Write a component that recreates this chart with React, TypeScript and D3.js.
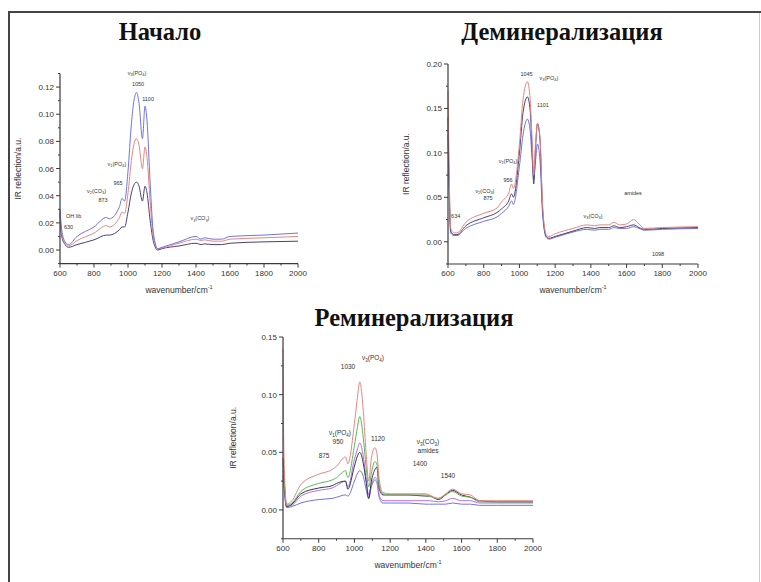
import React from "react";
import * as d3 from "d3";

// ---------- DATA ----------
const TITLES = ["Начало", "Деминерализация", "Реминерализация"];
const X_LABEL = "wavenumber/cm";
const Y_LABEL = "IR reflection/a.u.";
const X_TICKS = [600, 800, 1000, 1200, 1400, 1600, 1800, 2000];

// Panel 1: Начало
const WN1 = [600, 610, 630, 650, 700, 800, 873, 890, 950, 965, 980, 1000, 1020, 1035, 1050, 1065, 1085, 1100, 1112, 1130, 1150, 1175, 1200, 1300, 1400, 1430, 1450, 1500, 1550, 1600, 1800, 2000];
const P1_BLUE = [0.030, 0.015, 0.006, 0.004, 0.010, 0.017, 0.024, 0.023, 0.032, 0.038, 0.036, 0.058, 0.093, 0.110, 0.116, 0.108, 0.082, 0.106, 0.095, 0.050, 0.012, 0.001, 0.002, 0.006, 0.010, 0.008, 0.009, 0.008, 0.008, 0.010, 0.011, 0.0125];
const P1_RED = [0.028, 0.012, 0.005, 0.003, 0.007, 0.0125, 0.018, 0.017, 0.024, 0.028, 0.027, 0.042, 0.066, 0.078, 0.082, 0.077, 0.060, 0.076, 0.068, 0.036, 0.009, 0.001, 0.0015, 0.005, 0.008, 0.007, 0.0075, 0.0065, 0.0065, 0.008, 0.009, 0.010];
const P1_DARK = [0.026, 0.010, 0.004, 0.002, 0.004, 0.0075, 0.011, 0.011, 0.015, 0.017, 0.017, 0.028, 0.042, 0.048, 0.050, 0.047, 0.036, 0.047, 0.042, 0.022, 0.006, 0.000, 0.001, 0.003, 0.005, 0.004, 0.0045, 0.004, 0.004, 0.005, 0.006, 0.0065];
const P1_Y_TICKS = [0.00, 0.02, 0.04, 0.06, 0.08, 0.10, 0.12];
const P1_NOTES = [
  { t: "ν_3(PO_4)", x: 1053, y: 0.129 },
  { t: "1050", x: 1059, y: 0.121 },
  { t: "1100", x: 1118, y: 0.110 },
  { t: "ν_1(PO_4)", x: 935, y: 0.062 },
  { t: "965", x: 941, y: 0.048 },
  { t: "ν_2(CO_3)", x: 815, y: 0.042 },
  { t: "873", x: 853, y: 0.035 },
  { t: "OH lib", x: 680, y: 0.0236 },
  { t: "630", x: 650, y: 0.0155 },
  { t: "ν_3(CO_3)", x: 1423, y: 0.022 },
];

// Panel 2: Деминерализация
const WN2 = [600, 605, 615, 634, 650, 700, 800, 875, 900, 940, 956, 966, 1000, 1020, 1045, 1060, 1072, 1080, 1090, 1101, 1115, 1130, 1150, 1165, 1200, 1300, 1380, 1420, 1450, 1500, 1530, 1560, 1600, 1640, 1670, 1700, 1800, 2000];
const P2_RED = [0.17, 0.10, 0.015, 0.010, 0.010, 0.022, 0.032, 0.038, 0.045, 0.055, 0.065, 0.060, 0.110, 0.160, 0.180, 0.160, 0.110, 0.075, 0.110, 0.133, 0.118, 0.040, 0.008, 0.006, 0.009, 0.015, 0.019, 0.018, 0.019, 0.019, 0.022, 0.019, 0.020, 0.025, 0.020, 0.015, 0.016, 0.017];
const P2_DARK = [0.14, 0.08, 0.012, 0.008, 0.008, 0.018, 0.027, 0.033, 0.037, 0.046, 0.054, 0.050, 0.100, 0.145, 0.163, 0.148, 0.100, 0.065, 0.105, 0.133, 0.115, 0.036, 0.006, 0.004, 0.006, 0.012, 0.016, 0.015, 0.016, 0.016, 0.018, 0.016, 0.017, 0.019, 0.016, 0.014, 0.015, 0.016];
const P2_BLUE = [0.12, 0.07, 0.010, 0.007, 0.007, 0.015, 0.023, 0.028, 0.032, 0.040, 0.046, 0.042, 0.085, 0.120, 0.138, 0.125, 0.090, 0.070, 0.090, 0.110, 0.092, 0.030, 0.005, 0.003, 0.005, 0.011, 0.014, 0.013, 0.014, 0.014, 0.016, 0.015, 0.015, 0.017, 0.015, 0.013, 0.014, 0.015];
const P2_Y_TICKS = [0.00, 0.05, 0.10, 0.15, 0.20];
const P2_NOTES = [
  { t: "1045", x: 1040, y: 0.1865 },
  { t: "ν_3(PO_4)", x: 1165, y: 0.182 },
  { t: "1101", x: 1132, y: 0.152 },
  { t: "ν_1(PO_4)", x: 936, y: 0.089 },
  { t: "956", x: 936, y: 0.067 },
  { t: "ν_2(CO_3)", x: 807, y: 0.055 },
  { t: "875", x: 824, y: 0.047 },
  { t: "634", x: 643, y: 0.027 },
  { t: "ν_3(CO_3)", x: 1412, y: 0.027 },
  { t: "amides", x: 1636, y: 0.053 },
  { t: "1098", x: 1776, y: -0.016 },
];

// Panel 3: Реминерализация
const WN3 = [600, 605, 620, 650, 700, 800, 875, 900, 950, 963, 1000, 1015, 1030, 1050, 1065, 1080, 1095, 1115, 1125, 1140, 1160, 1200, 1300, 1400, 1420, 1470, 1510, 1550, 1600, 1650, 1700, 1800, 2000];
const P3_RED = [0.14, 0.05, 0.005, 0.008, 0.022, 0.031, 0.035, 0.038, 0.046, 0.040, 0.075, 0.095, 0.111, 0.085, 0.050, 0.025, 0.045, 0.054, 0.050, 0.025, 0.015, 0.014, 0.014, 0.014, 0.013, 0.010, 0.014, 0.018, 0.014, 0.013, 0.008, 0.008, 0.008];
const P3_GREEN = [0.04, 0.03, 0.004, 0.006, 0.016, 0.023, 0.026, 0.028, 0.034, 0.028, 0.056, 0.070, 0.081, 0.062, 0.038, 0.020, 0.032, 0.042, 0.040, 0.020, 0.014, 0.013, 0.013, 0.013, 0.012, 0.010, 0.013, 0.016, 0.012, 0.011, 0.007, 0.007, 0.007];
const P3_VIOLET = [0.035, 0.025, 0.003, 0.004, 0.012, 0.017, 0.019, 0.021, 0.025, 0.020, 0.044, 0.052, 0.058, 0.046, 0.028, 0.013, 0.022, 0.028, 0.027, 0.012, 0.008, 0.008, 0.008, 0.008, 0.008, 0.007, 0.008, 0.010, 0.008, 0.008, 0.006, 0.006, 0.006];
const P3_DARK = [0.045, 0.03, 0.003, 0.005, 0.014, 0.019, 0.021, 0.023, 0.025, 0.018, 0.038, 0.046, 0.050, 0.040, 0.025, 0.010, 0.025, 0.035, 0.037, 0.018, 0.013, 0.013, 0.013, 0.012, 0.012, 0.009, 0.013, 0.017, 0.013, 0.011, 0.008, 0.007, 0.007];
const P3_BLUE = [0.03, 0.02, 0.002, 0.003, 0.006, 0.009, 0.010, 0.011, 0.013, 0.012, 0.025, 0.031, 0.034, 0.029, 0.018, 0.010, 0.020, 0.026, 0.024, 0.010, 0.006, 0.006, 0.006, 0.005, 0.005, 0.005, 0.005, 0.006, 0.005, 0.005, 0.004, 0.004, 0.004];
const P3_Y_TICKS = [0.00, 0.05, 0.10, 0.15];
const P3_NOTES = [
  { t: "ν_3(PO_4)", x: 1104, y: 0.130 },
  { t: "1030", x: 964, y: 0.122 },
  { t: "ν_1(PO_4)", x: 919, y: 0.065 },
  { t: "950", x: 908, y: 0.057 },
  { t: "1120", x: 1132, y: 0.060 },
  { t: "875", x: 830, y: 0.045 },
  { t: "ν_3(CO_3)", x: 1412, y: 0.057 },
  { t: "amides", x: 1412, y: 0.049 },
  { t: "1400", x: 1367, y: 0.038 },
  { t: "1540", x: 1524, y: 0.028 },
];

// ---------- LAYOUT / STYLE ----------
const C_RED = "#e4877f";
const C_BLUE = "#7272e2";
const C_DARK = "#4a3f78";
const C_GREEN = "#5fb65a";
const C_VIOLET = "#b46fe0";
const C_BLACK = "#35354f";

const PANELS = [
  {
    title: TITLES[0], titleX: 160, titleY: 40,
    x0: 60, x1: 298, yTop: 73.5, yBot: 263.6, domain: [-0.01, 0.13],
    yTicks: P1_Y_TICKS, minorStep: 0.01, fmt: ".2f",
    wn: WN1,
    series: [
      { v: P1_DARK, c: C_DARK },
      { v: P1_RED, c: C_RED },
      { v: P1_BLUE, c: C_BLUE },
    ],
    notes: P1_NOTES, noteSize: 5.5, yLabelX: 21,
  },
  {
    title: TITLES[1], titleX: 562, titleY: 40,
    x0: 448, x1: 698, yTop: 64, yBot: 264, domain: [-0.025, 0.2],
    yTicks: P2_Y_TICKS, minorStep: 0.025, fmt: ".2f",
    wn: WN2,
    series: [
      { v: P2_BLUE, c: C_BLUE },
      { v: P2_DARK, c: C_DARK },
      { v: P2_RED, c: C_RED },
    ],
    notes: P2_NOTES, noteSize: 5.5, yLabelX: 409,
  },
  {
    title: TITLES[2], titleX: 414, titleY: 326,
    x0: 283, x1: 533, yTop: 337, yBot: 538.75, domain: [-0.025, 0.15],
    yTicks: P3_Y_TICKS, minorStep: 0.025, fmt: ".2f",
    wn: WN3,
    series: [
      { v: P3_BLUE, c: C_BLUE },
      { v: P3_VIOLET, c: C_VIOLET },
      { v: P3_DARK, c: C_BLACK },
      { v: P3_GREEN, c: C_GREEN },
      { v: P3_RED, c: C_RED },
    ],
    notes: P3_NOTES, noteSize: 6.5, yLabelX: 236,
  },
];

const AXIS = "#3a3a3a";
const FONT = "Liberation Sans, Arial, sans-serif";

function Note({ text, x, y, size }: { text: string; x: number; y: number; size: number }) {
  // "_X" => subscript X
  const parts: { s: string; sub: boolean }[] = [];
  let buf = "";
  for (let i = 0; i < text.length; i++) {
    if (text[i] === "_" && i + 1 < text.length) {
      if (buf) parts.push({ s: buf, sub: false });
      buf = "";
      parts.push({ s: text[i + 1], sub: true });
      i++;
    } else buf += text[i];
  }
  if (buf) parts.push({ s: buf, sub: false });
  return (
    <text x={x} y={y} fontSize={size} fontFamily={FONT} fill="#333" textAnchor="middle">
      {parts.map((p, i) =>
        p.sub ? (
          <tspan key={i} fontSize={size * 0.7} dy={size * 0.25}>{p.s}</tspan>
        ) : (
          <tspan key={i} dy={i > 0 && parts[i - 1].sub ? -size * 0.25 : 0}>{p.s}</tspan>
        )
      )}
    </text>
  );
}

function Panel({ p }: { p: (typeof PANELS)[number] }) {
  const xs = d3.scaleLinear().domain([600, 2000]).range([p.x0, p.x1]);
  const ys = d3.scaleLinear().domain(p.domain).range([p.yBot, p.yTop]);
  const line = d3
    .line<number>()
    .x((_, i) => xs(p.wn[i]))
    .y((d) => ys(d))
    .curve(d3.curveMonotoneX);
  const minorY = d3.range(p.domain[0], p.domain[1] + 1e-9, p.minorStep).filter(
    (v) => !p.yTicks.some((t) => Math.abs(t - v) < 1e-9)
  );
  const minorX = d3.range(700, 2000, 200);
  const fmt = d3.format(p.fmt);
  return (
    <g>
      <text x={p.titleX} y={p.titleY} textAnchor="middle" fontFamily="Liberation Serif, Times New Roman, serif" fontWeight="bold" fontSize={24.5} fill="#111">
        {p.title}
      </text>
      <g>
        {p.series.map((s, i) => (
          <path key={i} d={line(s.v) || ""} fill="none" stroke={s.c} strokeWidth={1} />
        ))}
      </g>
      {/* axes */}
      <line x1={p.x0} x2={p.x0} y1={p.yTop} y2={p.yBot} stroke={AXIS} strokeWidth={1.2} />
      <line x1={p.x0} x2={p.x1} y1={p.yBot} y2={p.yBot} stroke={AXIS} strokeWidth={1.2} />
      {p.yTicks.map((t) => (
        <g key={t}>
          <line x1={p.x0 - 4} x2={p.x0} y1={ys(t)} y2={ys(t)} stroke={AXIS} strokeWidth={1} />
          <text x={p.x0 - 6} y={ys(t) + 3} textAnchor="end" fontSize={8} fontFamily={FONT} fill="#333">
            {fmt(t)}
          </text>
        </g>
      ))}
      {minorY.map((t) => (
        <line key={"m" + t} x1={p.x0 - 2} x2={p.x0} y1={ys(t)} y2={ys(t)} stroke={AXIS} strokeWidth={1} />
      ))}
      {X_TICKS.map((t) => (
        <g key={t}>
          <line x1={xs(t)} x2={xs(t)} y1={p.yBot} y2={p.yBot + 4} stroke={AXIS} strokeWidth={1} />
          <text x={xs(t)} y={p.yBot + 12} textAnchor="middle" fontSize={8} fontFamily={FONT} fill="#333">
            {t}
          </text>
        </g>
      ))}
      {minorX.map((t) => (
        <line key={"mx" + t} x1={xs(t)} x2={xs(t)} y1={p.yBot} y2={p.yBot + 2} stroke={AXIS} strokeWidth={1} />
      ))}
      <text x={(p.x0 + p.x1) / 2} y={p.yBot + 29} textAnchor="middle" fontSize={8.5} fontFamily={FONT} fill="#333">
        {X_LABEL}
        <tspan fontSize={5.5} dy={-4}>-1</tspan>
      </text>
      <text
        transform={`translate(${p.yLabelX},${(p.yTop + p.yBot) / 2}) rotate(-90)`}
        textAnchor="middle"
        fontSize={8.5}
        fontFamily={FONT}
        fill="#333"
      >
        {Y_LABEL}
      </text>
      {p.notes.map((n, i) => (
        <Note key={i} text={n.t} x={xs(n.x)} y={ys(n.y)} size={p.noteSize} />
      ))}
    </g>
  );
}

export default function App() {
  return (
    <svg
      width={761}
      height={582}
      viewBox="0 0 761 582"
      style={{ position: "absolute", left: 0, top: 0, background: "#fff" }}
    >
      <rect x={0} y={0} width={761} height={582} fill="#fff" />
      <line x1={9} y1={12} x2={761} y2={12} stroke="#444" strokeWidth={2} />
      <line x1={9} y1={11} x2={9} y2={582} stroke="#444" strokeWidth={2} />
      <line x1={759.5} y1={13} x2={759.5} y2={582} stroke="#ccc" strokeWidth={1} />
      {PANELS.map((p, i) => (
        <Panel key={i} p={p} />
      ))}
    </svg>
  );
}
